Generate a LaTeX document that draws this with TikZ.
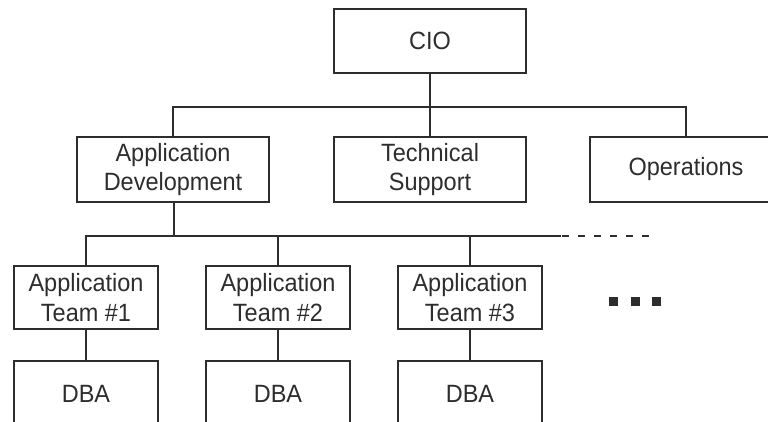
\documentclass[tikz,border=0pt]{standalone}
\usepackage{fontspec}
\setmainfont{Liberation Sans}[FakeStretch=0.94]
\definecolor{ink}{RGB}{45,45,45}
\tikzset{
  box/.style={draw=ink, line width=1.1pt, text=ink, align=center,
    minimum width=192pt, minimum height=65pt, inner sep=0pt,
    font=\fontsize{25}{29.5}\selectfont},
  teambox/.style={box, minimum width=144pt, minimum height=63pt},
  link/.style={draw=ink, line width=1.1pt}
}
\begin{document}
\begin{tikzpicture}[x=1pt,y=-1pt]
\clip (0,0) rectangle (768,422);

% top level
\node[box, minimum height=64pt] (cio) at (430,41) {CIO};

% second level
\node[box] (appdev) at (173,169.5) {Application\\Development};
\node[box] (tech) at (430,169.5) {Technical\\Support};
\node[box] (ops) at (686,169.5) {Operations};

\coordinate (bus1) at (430,107);
\draw[link] (cio) -- (tech);
\draw[link] (appdev.north) |- (bus1) -| (ops.north);

% application teams
\node[teambox] (team1) at (86,297.5) {Application\\Team \#1};
\node[teambox] (team2) at (278,297.5) {Application\\Team \#2};
\node[teambox] (team3) at (470,297.5) {Application\\Team \#3};

\coordinate (bus2) at (174,236);
\coordinate (busend) at (561,236);
\coordinate (dashend) at (649,236);
\draw[link] (appdev.south -| bus2) -- (bus2);
\draw[link] (team1.north) |- (busend);
\draw[link] (team2.north) -- (team2.north |- busend);
\draw[link] (team3.north) -- (team3.north |- busend);
\draw[link, dash pattern=on 7pt off 9pt] (busend) ++(1,0) -- (dashend);

% more teams
\foreach \x in {613.5,635,656.5}
  \fill[ink] (\x-4.5,296.5) rectangle (\x+4.5,305.5);

% dbas
\node[teambox, minimum height=66pt] (dba1) at (86,394) {DBA};
\node[teambox, minimum height=66pt] (dba2) at (278,394) {DBA};
\node[teambox, minimum height=66pt] (dba3) at (470,394) {DBA};

\draw[link] (team1) -- (dba1);
\draw[link] (team2) -- (dba2);
\draw[link] (team3) -- (dba3);

\end{tikzpicture}
\end{document}
